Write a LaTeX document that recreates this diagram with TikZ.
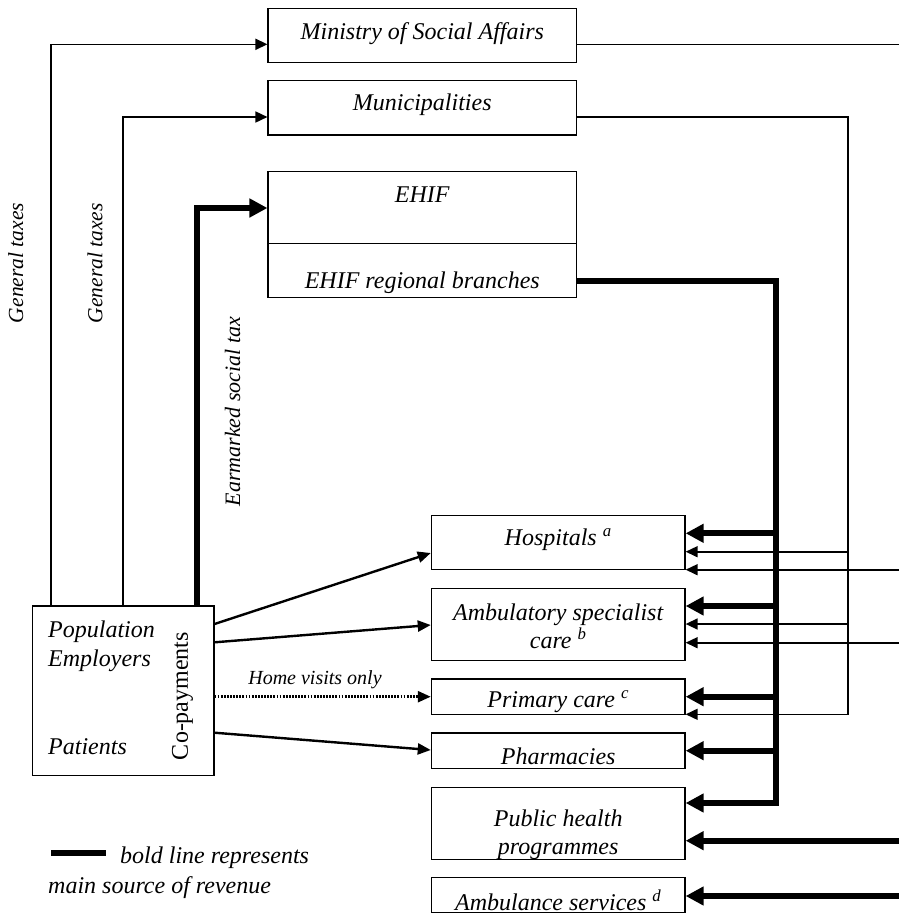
\documentclass[tikz,border=0pt]{standalone}
\usepackage{fontspec}
\setmainfont{Liberation Serif}
\usetikzlibrary{arrows.meta}
\begin{document}
\begin{tikzpicture}[x=1pt,y=-1pt,
  box/.style={draw,line width=1.2pt,inner sep=0pt},
  lbl/.style={font=\fontsize{24}{28}\selectfont\itshape,align=center,inner sep=0pt},
  thinln/.style={line width=1.6pt},
  boldln/.style={line width=6pt},
  popln/.style={line width=2.4pt},
  tipS/.style={-{Triangle[length=12pt,width=11pt]}},
  tipP/.style={-{Triangle[length=13pt,width=11pt]}},
  tipB/.style={-{Triangle[length=18pt,width=18pt]}}]
\useasboundingbox (0,0) rectangle (899,914);
% boxes
\node[box,minimum width=308.5pt,minimum height=53.6pt] (min) at (422.3,35.5) {};
\node[box,minimum width=308.5pt,minimum height=54.3pt] (mun) at (422.3,107.8) {};
\node[box,minimum width=308.5pt,minimum height=126pt] (ehif) at (422.3,234.7) {};
\draw[line width=1.2pt] (ehif.west |- 0,243.7) -- (ehif.east |- 0,243.7);
\node[box,minimum width=253.7pt,minimum height=54.4pt] (hosp) at (558.2,542.5) {};
\node[box,minimum width=253.7pt,minimum height=72pt] (amb) at (558.2,624.3) {};
\node[box,minimum width=253.7pt,minimum height=35.7pt] (prim) at (558.2,696.8) {};
\node[box,minimum width=253.7pt,minimum height=35.7pt] (pharm) at (558.2,750.8) {};
\node[box,minimum width=253.7pt,minimum height=72pt] (pub) at (558.2,823.3) {};
\node[box,minimum width=253.7pt,minimum height=35.4pt] (ambs) at (558.2,895) {};
\node[box,minimum width=181.3pt,minimum height=169.7pt] (pop) at (123.3,690.8) {};
% labels
\node[lbl] (tmin) at (422.3,34) {Ministry of Social Affairs};
\node[lbl] (tmun) at (422.3,105) {Municipalities};
\node[lbl] (tehif) at (422.3,195) {EHIF};
\node[lbl] (treg) at (422.3,283) {EHIF regional branches};
\node[lbl] (thosp) at (558.2,540) {Hospitals \textsuperscript{a}};
\node[lbl] (tamb) at (558.2,626) {Ambulatory specialist\\care \textsuperscript{b}};
\node[lbl] (tprim) at (558.2,701.7) {Primary care \textsuperscript{c}};
\node[lbl] (tpharm) at (558.2,756.7) {Pharmacies};
\node[lbl] (tpub) at (558.2,835) {Public health\\programmes};
\node[lbl] (tambs) at (558.2,900) {Ambulance services \textsuperscript{d}};
\node[lbl,anchor=base west] (tpop) at (48,637.3) {Population};
\node[lbl,anchor=base west] (temp) at (48,666.7) {Employers};
\node[lbl,anchor=base west] (tpat) at (48,754) {Patients};
\node[lbl,font=\fontsize{24}{28}\selectfont,rotate=90] (tcop) at (182.5,696) {Co-payments};
\node[lbl,font=\fontsize{21.5}{26}\selectfont\itshape,rotate=90] (tgt1) at (15.8,263) {General taxes};
\node[lbl,font=\fontsize{21.5}{26}\selectfont\itshape,rotate=90] (tgt2) at (95,263.3) {General taxes};
\node[lbl,font=\fontsize{22}{26}\selectfont\itshape,rotate=90] (tear) at (232.5,411.7) {Earmarked social tax};
\node[lbl,font=\fontsize{20}{24}\selectfont\itshape] (thome) at (315,680) {Home visits only};
% coordinates
\coordinate (rmin) at (899,44.3);
\coordinate (rh) at (899,569.7);
\coordinate (ra) at (899,642.7);
\coordinate (rp) at (899,840.7);
\coordinate (rs) at (899,896);
\coordinate (mv) at (848,116.7);
\coordinate (ev) at (776,280.5);
% left tax lines
\draw[thinln,tipS] (pop.north -| 51,0) |- (min.west |- 0,44.3);
\draw[thinln,tipS] (pop.north -| 123,0) |- (mun.west |- 0,117);
\draw[boldln,tipB] (pop.north -| 197,0) |- (ehif.west |- 0,208);
% ministry
\draw[thinln] (min.east |- rmin) -- (rmin);
\draw[thinln,tipS] (rh) -- (hosp.east |- rh);
\draw[thinln,tipS] (ra) -- (amb.east |- ra);
\draw[boldln,tipB] (rp) -- (pub.east |- rp);
\draw[boldln,tipB] (rs) -- (ambs.east |- rs);
% municipalities
\draw[thinln,tipS] (mun.east |- mv) -- (mv) |- (prim.east |- 0,714.3);
\draw[thinln,tipS] (mv |- 0,551.7) -- (hosp.east |- 0,551.7);
\draw[thinln,tipS] (mv |- 0,624) -- (amb.east |- 0,624);
% EHIF
\draw[boldln,tipB] (ehif.east |- ev) -- (ev) |- (pub.east |- 0,803);
\draw[boldln,tipB] (ev |- 0,533.3) -- (hosp.east |- 0,533.3);
\draw[boldln,tipB] (ev |- 0,606) -- (amb.east |- 0,606);
\draw[boldln,tipB] (ev |- 0,696.7) -- (prim.east |- 0,696.7);
\draw[boldln,tipB] (ev |- 0,750.7) -- (pharm.east |- 0,750.7);
% population to providers
\draw[popln,tipP] (pop.east |- 0,624) -- (hosp.west |- 0,553);
\draw[popln,tipP] (pop.east |- 0,642.3) -- (amb.west |- 0,625);
\draw[line width=2.6pt,dash pattern=on 1.8pt off 1.3pt,tipP] (pop.east |- 0,696.7) -- (prim.west |- 0,696.7);
\draw[popln,tipP] (pop.east |- 0,732.7) -- (pharm.west |- 0,750);
% legend
\coordinate (lg1) at (51,852.7);
\coordinate (lg2) at (105.7,852.7);
\draw[boldln] (lg1) -- (lg2);
\node[lbl,anchor=west] (tlg1) at (120,857.5) {bold line represents};
\node[lbl,anchor=west] (tlg2) at (48,887.5) {main source of revenue};
\end{tikzpicture}
\end{document}
